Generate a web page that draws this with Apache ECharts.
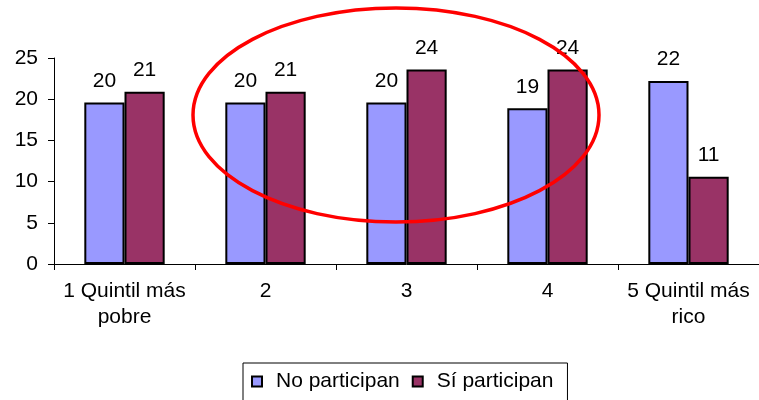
<!DOCTYPE html>
<html>
<head>
<meta charset="utf-8">
<script src="https://cdn.jsdelivr.net/npm/echarts@6/dist/echarts.min.js"></script>
<style>
    html, body { margin: 0; padding: 0; background: #fff; }
    #chart { width: 759px; height: 400px; }
</style>
</head>
<body>
<div id="chart"></div>
<script>
// 类别与数据
const categories = ['1 Quintil más\npobre', '2', '3', '4', '5 Quintil más\nrico']
const noParticipan = [19.6, 19.6, 19.6, 18.9, 22.2]
const siParticipan = [20.9, 20.9, 23.6, 23.6, 10.6]
const seriesNames = ['No participan', 'Sí participan']

const font = 'Liberation Sans, Arial, sans-serif'

// 柱顶标签：四舍五入取整
const barLabel = {
    show: true,
    position: 'top',
    distance: 11,
    color: '#000',
    fontSize: 21,
    fontFamily: font,
    formatter: function (p) {
        return Math.round(p.value)
    }
}

var chart = echarts.init(document.getElementById('chart'))
var option = {
    animation: false,
    backgroundColor: '#fff',
    textStyle: { fontFamily: font },
    grid: {
        left: 54,
        right: -2,
        top: 58,
        bottom: 136
    },
    legend: {
        left: 243,
        top: 363,
        itemWidth: 10,
        itemHeight: 10,
        itemGap: 12,
        icon: 'rect',
        borderColor: '#000',
        borderWidth: 1,
        padding: [8, 14, 12, 8],
        textStyle: { fontSize: 21, color: '#000', fontFamily: font, padding: [0, 0, 0, 9] },
        data: seriesNames
    },
    xAxis: {
        type: 'category',
        data: categories,
        axisLine: { lineStyle: { color: '#000', width: 1 } },
        axisTick: { show: true, length: 6, lineStyle: { color: '#000' } },
        axisLabel: {
            color: '#000',
            fontSize: 21,
            fontFamily: font,
            lineHeight: 26,
            margin: 14,
            interval: 0
        }
    },
    yAxis: {
        type: 'value',
        min: 0,
        max: 25,
        interval: 5,
        axisLine: { show: true, lineStyle: { color: '#000', width: 1 } },
        axisTick: { show: true, length: 6, lineStyle: { color: '#000' } },
        splitLine: { show: false },
        axisLabel: {
            color: '#000',
            fontSize: 21,
            fontFamily: font,
            margin: 16
        }
    },
    series: [
        {
            name: seriesNames[0],
            type: 'bar',
            data: noParticipan,
            barGap: '0%',
            barCategoryGap: '43%',
            itemStyle: { color: '#9999FF', borderColor: '#000', borderWidth: 2 },
            label: barLabel
        },
        {
            name: seriesNames[1],
            type: 'bar',
            data: siParticipan,
            itemStyle: { color: '#993366', borderColor: '#000', borderWidth: 2 },
            label: barLabel
        }
    ],
    // 红色椭圆标注
    graphic: [
        {
            type: 'ellipse',
            z: 100,
            shape: { cx: 396, cy: 115, rx: 203, ry: 107 },
            style: { fill: 'none', stroke: '#FF0000', lineWidth: 3.5 }
        }
    ]
}
chart.setOption(option)
</script>
</body>
</html>
